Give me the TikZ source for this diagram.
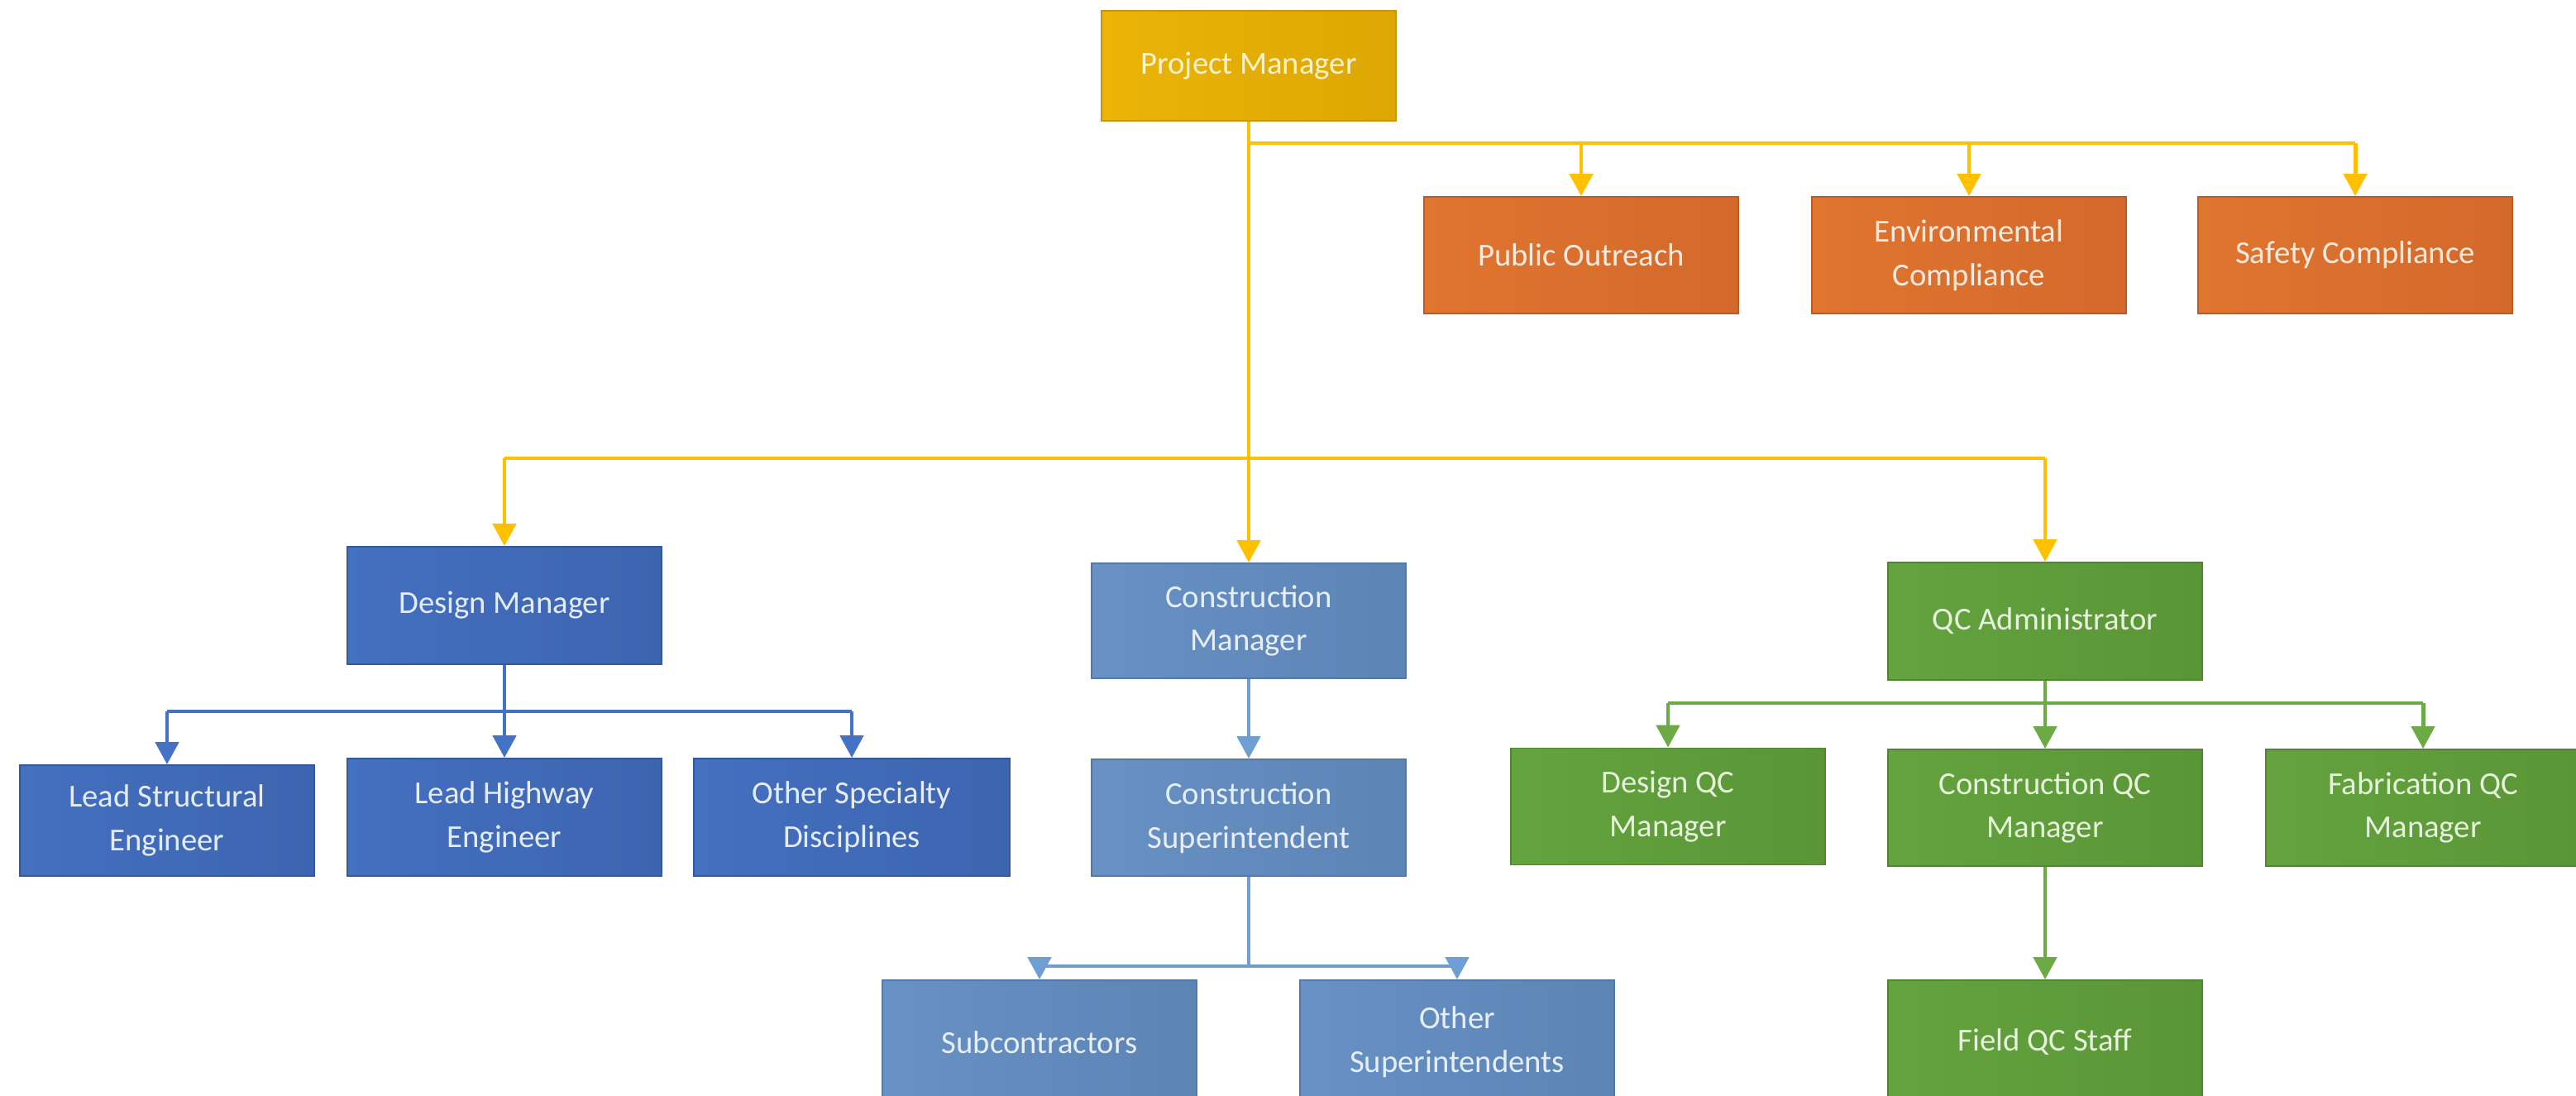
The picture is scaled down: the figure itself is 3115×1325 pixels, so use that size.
\documentclass[tikz,border=0pt]{standalone}
\usepackage{fontspec}
\setmainfont{Carlito}
\usetikzlibrary{arrows.meta}
\definecolor{goldF}{HTML}{DDA704}
\definecolor{goldL}{HTML}{EBB406}
\definecolor{goldD}{HTML}{C8960A}
\definecolor{goldLine}{HTML}{FFC000}
\definecolor{goldT}{HTML}{FFF2CC}
\definecolor{orF}{HTML}{D3692B}
\definecolor{orL}{HTML}{E07530}
\definecolor{orD}{HTML}{BF5A22}
\definecolor{orT}{HTML}{FCEADF}
\definecolor{dbF}{HTML}{3D64AF}
\definecolor{dbL}{HTML}{4470C0}
\definecolor{dbD}{HTML}{34589E}
\definecolor{dbLine}{HTML}{4472C4}
\definecolor{dbT}{HTML}{E4ECF8}
\definecolor{sbF}{HTML}{5C84B5}
\definecolor{sbL}{HTML}{6891C4}
\definecolor{sbD}{HTML}{5479A8}
\definecolor{sbLine}{HTML}{6E9ED4}
\definecolor{sbT}{HTML}{E6EEF8}
\definecolor{grF}{HTML}{5A9536}
\definecolor{grL}{HTML}{64A33F}
\definecolor{grD}{HTML}{50862F}
\definecolor{grLine}{HTML}{6BAA45}
\definecolor{grT}{HTML}{E6F2DC}
\begin{document}
\begin{tikzpicture}[x=0.01cm,y=-0.01cm,
  box/.style={rectangle, inner sep=0pt, align=center, minimum width=3.8cm,
    minimum height=1.41cm, font=\fontsize{11}{15}\selectfont, line width=0.5pt},
  goldbox/.style={box, left color=goldL, right color=goldF, draw=goldD, text=goldT},
  orbox/.style={box, left color=orL, right color=orF, draw=orD, text=orT},
  dbbox/.style={box, left color=dbL, right color=dbF, draw=dbD, text=dbT},
  sbbox/.style={box, left color=sbL, right color=sbF, draw=sbD, text=sbT},
  grbox/.style={box, left color=grL, right color=grF, draw=grD, text=grT},
  ln/.style={line width=1.4pt},
  arr/.style={ln, -{Triangle[width=0.28cm,length=0.27cm]}}
]
\fill[white] (0,0) rectangle (3115,1325);
\useasboundingbox (0,0) rectangle (3115,1325);

% nodes
\node[goldbox, minimum width=3.56cm, minimum height=1.33cm] (pm) at (1510,79.5) {Project Manager};

\node[orbox] (po) at (1912,308.5) {Public Outreach};
\node[orbox] (env) at (2381,308.5) {Environmental\\Compliance};
\node[orbox] (safe) at (2848,308.5) {Safety Compliance};

\node[dbbox, minimum height=1.42cm] (dm) at (610,732) {Design Manager};
\node[sbbox, minimum height=1.39cm] (cm) at (1510,750.5) {Construction\\Manager};
\node[grbox, minimum height=1.42cm] (qca) at (2473,751) {QC Administrator};

\node[dbbox, minimum width=3.56cm, minimum height=1.34cm] (ls) at (202,992) {Lead Structural\\Engineer};
\node[dbbox, minimum height=1.42cm] (lh) at (610,988) {Lead Highway\\Engineer};
\node[dbbox, minimum width=3.82cm, minimum height=1.42cm] (os) at (1030,988) {Other Specialty\\Disciplines};

\node[sbbox] (cs) at (1510,988.5) {Construction\\Superintendent};
\node[sbbox, minimum height=1.5cm] (sub) at (1257,1260) {Subcontractors};
\node[sbbox, minimum height=1.5cm] (osup) at (1762,1260) {Other\\Superintendents};

\node[grbox] (dqc) at (2017,975) {Design QC\\Manager};
\node[grbox] (cqc) at (2473,976.5) {Construction QC\\Manager};
\node[grbox] (fqc) at (2930,976.5) {Fabrication QC\\Manager};
\node[grbox, minimum height=1.5cm] (field) at (2473,1260) {Field QC Staff};

% junction coordinates
\coordinate (j1) at (1510,173);
\coordinate (j2) at (1510,554);
\coordinate (j3) at (610,860);
\coordinate (j4) at (1510,1168);
\coordinate (j5) at (2473,850);

% yellow connectors
\draw[ln, goldLine] (j1) -- (safe.north |- j1);
\draw[arr, goldLine] (pm.south) -- (cm.north);
\draw[arr, goldLine] (po.north |- j1) -- (po.north);
\draw[arr, goldLine] (env.north |- j1) -- (env.north);
\draw[arr, goldLine] (safe.north |- j1) -- (safe.north);
\draw[ln, goldLine] (dm.north |- j2) -- (qca.north |- j2);
\draw[arr, goldLine] (dm.north |- j2) -- (dm.north);
\draw[arr, goldLine] (qca.north |- j2) -- (qca.north);

% design (dark blue)
\draw[ln, dbLine] (dm.south) -- (j3);
\draw[ln, dbLine] (ls.north |- j3) -- (os.north |- j3);
\draw[arr, dbLine] (ls.north |- j3) -- (ls.north);
\draw[arr, dbLine] (j3) -- (lh.north);
\draw[arr, dbLine] (os.north |- j3) -- (os.north);

% construction (steel blue)
\draw[arr, sbLine] (cm.south) -- (cs.north);
\draw[ln, sbLine] (cs.south) -- (j4);
\draw[ln, sbLine] (sub.north |- j4) -- (osup.north |- j4);
\draw[arr, sbLine] (sub.north |- j4) -- (sub.north);
\draw[arr, sbLine] (osup.north |- j4) -- (osup.north);

% QC (green)
\draw[ln, grLine] (qca.south) -- (j5);
\draw[ln, grLine] (dqc.north |- j5) -- (fqc.north |- j5);
\draw[arr, grLine] (dqc.north |- j5) -- (dqc.north);
\draw[arr, grLine] (j5) -- (cqc.north);
\draw[arr, grLine] (fqc.north |- j5) -- (fqc.north);
\draw[arr, grLine] (cqc.south) -- (field.north);
\end{tikzpicture}
\end{document}
